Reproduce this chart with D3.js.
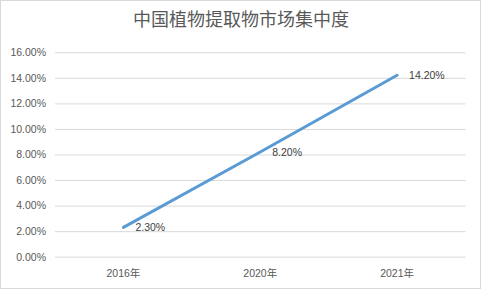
<!DOCTYPE html>
<html>
<head>
<meta charset="utf-8">
<script src="https://cdn.jsdelivr.net/npm/d3@7"></script>
<style>
  body { margin: 0; background: #fff; }
  svg { display: block; font-family: "Liberation Sans", Arial, sans-serif; }
</style>
</head>
<body>
<svg id="chart"></svg>
<script>
var title = "中国植物提取物市场集中度";
var categories = ["2016年", "2020年", "2021年"];
var values = [0.023, 0.082, 0.142];
var yTicks = [0, 0.02, 0.04, 0.06, 0.08, 0.10, 0.12, 0.14, 0.16];

var width = 481, height = 289;
var margin = { top: 52.3, right: 15.5, bottom: 32.3, left: 55 };
var innerW = width - margin.left - margin.right,
    innerH = height - margin.top - margin.bottom;

var svg = d3.select("#chart").attr("width", width).attr("height", height);

// chart border
svg.append("rect")
    .attr("x", 0.5).attr("y", 0.5)
    .attr("width", width - 1).attr("height", height - 1)
    .attr("fill", "#fff").attr("stroke", "#d9d9d9");

svg.append("text")
    .attr("x", 241).attr("y", 20)
    .attr("dy", "0.35em")
    .attr("text-anchor", "middle")
    .attr("fill", "#595959")
    .style("font-family", "'Noto Sans CJK SC', sans-serif")
    .style("font-size", "18px")
    .text(title);

var g = svg.append("g").attr("transform", "translate(" + margin.left + "," + margin.top + ")");

var x = d3.scaleBand().domain(categories).range([0, innerW]);
var y = d3.scaleLinear().domain([0, 0.16]).range([innerH, 0]);

// y axis with gridlines
var yAxis = d3.axisLeft(y).tickValues(yTicks).tickSize(-innerW).tickPadding(9)
    .tickFormat(d3.format(".2%"));
g.append("g").call(function (sel) {
    sel.call(yAxis);
    sel.select(".domain").remove();
    sel.selectAll(".tick line").attr("stroke", "#d9d9d9");
    sel.selectAll(".tick text").attr("fill", "#595959").style("font-size", "10.5px");
});

// x axis
var xAxis = d3.axisBottom(x).tickSize(0).tickPadding(13);
g.append("g").attr("transform", "translate(0," + innerH + ")").call(function (sel) {
    sel.call(xAxis);
    sel.select(".domain").remove();
    sel.selectAll(".tick text").attr("fill", "#595959")
        .style("font-family", "'Liberation Sans', 'Noto Sans CJK SC', sans-serif")
        .style("font-size", "10.5px");
});

var line = d3.line()
    .x(function (d, i) { return x(categories[i]) + x.bandwidth() / 2; })
    .y(function (d) { return y(d); });

g.append("path")
    .datum(values)
    .attr("d", line)
    .attr("fill", "none")
    .attr("stroke", "#5b9bd5")
    .attr("stroke-width", 3)
    .attr("stroke-linecap", "round");

g.selectAll(".label")
    .data(values)
  .enter().append("text")
    .attr("class", "label")
    .attr("x", function (d, i) { return x(categories[i]) + x.bandwidth() / 2 + 12; })
    .attr("y", function (d) { return y(d); })
    .attr("dy", "0.35em")
    .attr("fill", "#404040")
    .style("font-size", "10.5px")
    .text(d3.format(".2%"));
</script>
</body>
</html>
